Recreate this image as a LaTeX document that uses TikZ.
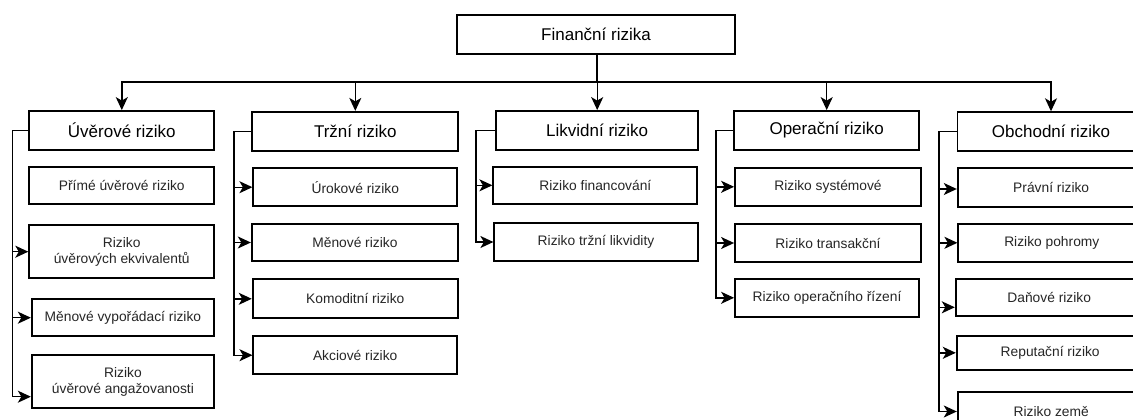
\documentclass[tikz,border=0pt]{standalone}
\usepackage{fontspec}
\setmainfont{Liberation Sans}
\usetikzlibrary{arrows.meta}
\begin{document}
\begin{tikzpicture}[x=1pt,y=-1pt,
  box/.style={draw, line width=1.8pt, inner sep=0pt, align=center, fill=white},
  head/.style={box, font=\fontsize{17}{20}\selectfont},
  item/.style={box, font=\fontsize{13.8}{16.5}\selectfont, text=black!85},
  conn/.style={line width=1.4pt, -{Stealth[length=13pt,width=12pt,inset=3.5pt]}},
  trunk/.style={line width=2.2pt}]
\clip (0,0) rectangle (1133,420);
\fill[white] (0,0) rectangle (1133,420);

% top
\node[head, minimum width=278pt, minimum height=39pt] (top) at (596,34.2) {Finanční rizika};

% level 1
\node[head, minimum width=185pt, minimum height=39pt] (U) at (121.8,130.5) {Úvěrové riziko};
\node[head, minimum width=206pt, minimum height=39pt] (T) at (355.3,131.3) {Tržní riziko};
\node[head, minimum width=202pt, minimum height=39pt] (L) at (597.2,130.5) {Likvidní riziko};
\node[head, minimum width=185pt, minimum height=39pt] (O) at (826.7,130.5) {Operační riziko};
\node[head, minimum width=187pt, minimum height=39pt] (B) at (1051,131.7) {Obchodní riziko};

% U group
\node[item, minimum width=185pt, minimum height=37.6pt] (u1) at (121.8,185.5) {Přímé úvěrové riziko};
\node[item, minimum width=185pt, minimum height=53.3pt] (u2) at (121.7,251.7) {Riziko\\ úvěrových ekvivalentů};
\node[item, minimum width=182.3pt, minimum height=36.7pt] (u3) at (122.9,317.7) {Měnové vypořádací riziko};
\node[item, minimum width=182.3pt, minimum height=53.3pt] (u4) at (122.9,381.7) {Riziko\\ úvěrové angažovanosti};

% T group
\node[item, minimum width=204pt, minimum height=37.7pt] (t1) at (355.3,187.2) {Úrokové riziko};
\node[item, minimum width=206.3pt, minimum height=37pt] (t2) at (354.9,242.5) {Měnové riziko};
\node[item, minimum width=205.3pt, minimum height=39pt] (t3) at (355.3,298.8) {Komoditní riziko};
\node[item, minimum width=203.7pt, minimum height=38.3pt] (t4) at (355.2,355.2) {Akciové riziko};

% L group
\node[item, minimum width=204pt, minimum height=37.3pt] (l1) at (595.3,185.3) {Riziko financování};
\node[item, minimum width=203.4pt, minimum height=37.4pt] (l2) at (596,242) {Riziko tržní likvidity};

% O group
\node[item, minimum width=186pt, minimum height=38.3pt] (o1) at (828,186.8) {Riziko systémové};
\node[item, minimum width=186pt, minimum height=37.4pt] (o2) at (828,243) {Riziko transakční};
\node[item, minimum width=184pt, minimum height=37.7pt] (o3) at (827,297.8) {Riziko operačního řízení};

% B group
\node[item, minimum width=187pt, minimum height=38.4pt] (b1) at (1051.2,187.5) {Právní riziko};
\node[item, minimum width=187pt, minimum height=37.7pt] (b2) at (1051.8,242.8) {Riziko pohromy};
\node[item, minimum width=187pt, minimum height=37pt] (b3) at (1049.2,297.5) {Daňové riziko};
\node[item, minimum width=187pt, minimum height=34.3pt] (b4) at (1050.2,352.8) {Reputační riziko};
\node[item, minimum width=187pt, minimum height=38.4pt] (b5) at (1051.2,411.5) {Riziko země};

% top connectors
\coordinate (bus) at (597,82);
\draw[trunk] (top.south -| bus) -- (bus);
\draw[conn] (top.south -| bus) -- (bus) -| (U.north);
\draw[conn] (top.south -| bus) -- (bus) -| (T.north);
\draw[conn] (top.south -| bus) -- (bus) -| (L.north);
\draw[conn] (top.south -| bus) -- (bus) -| (O.north);
\draw[conn] (top.south -| bus) -- (bus) -| (B.north);

% group lines
\coordinate (gU) at (12.3,130.5);
\coordinate (gT) at (234,131.3);
\coordinate (gL) at (476,130.5);
\coordinate (gO) at (716,130.5);
\coordinate (gB) at (939,131.7);

\draw[conn] (U.west) -- (gU) |- (u2.west);
\draw[conn] (U.west) -- (gU) |- (u3.west);
\draw[conn] (U.west) -- (gU) |- ([yshift=-15pt]u4.west);

\draw[conn] (T.west) -- (gT) |- (t1.west);
\draw[conn] (T.west) -- (gT) |- (t2.west);
\draw[conn] (T.west) -- (gT) |- (t3.west);
\draw[conn] (T.west) -- (gT) |- (t4.west);

\draw[conn] (L.west) -- (gL) |- (l1.west);
\draw[conn] (L.west) -- (gL) |- (l2.west);

\draw[conn] (O.west) -- (gO) |- (o1.west);
\draw[conn] (O.west) -- (gO) |- (o2.west);
\draw[conn] (O.west) -- (gO) |- (o3.west);

\draw[conn] (B.west) -- (gB) |- ([yshift=-1.5pt]b1.west);
\draw[conn] (B.west) -- (gB) |- (b2.west);
\draw[conn] (B.west) -- (gB) |- ([yshift=-9.8pt]b3.west);
\draw[conn] (B.west) -- (gB) |- (b4.west);
\draw[conn] (B.west) -- (gB) |- (b5.west);
\end{tikzpicture}
\end{document}
